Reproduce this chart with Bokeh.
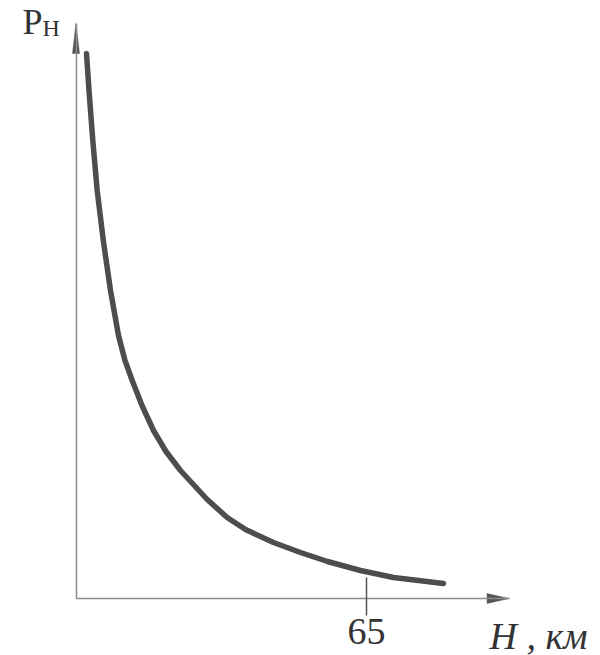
from bokeh.plotting import figure
from bokeh.models import LinearAxis, FixedTicker, Range1d, Label
from bokeh.embed import file_html
from bokeh.resources import INLINE

# Data: pressure vs altitude (arbitrary pressure units)
altitude_km = [2.35, 2.91, 3.76, 4.74, 6.11, 7.72, 9.51, 10.96, 12.58, 14.77,
               17.34, 20.14, 23.38, 29.36, 33.83, 37.93, 41.28, 44.19, 50.23,
               56.28, 63.66, 71.05, 82.23]
pressure = [109.0, 101.6, 91.6, 81.6, 71.6, 61.6, 52.6, 47.6, 43.6, 38.6,
            33.6, 29.4, 25.6, 19.8, 16.2, 13.8, 12.4, 11.2, 9.2,
            7.4, 5.6, 4.2, 3.0]

x_tick_values = [65]
x_tick_labels = {65: "65"}
x_axis_end = 96.9
y_axis_end = 115.0

SERIF = "Liberation Serif"

# screen scale constants (pixels per data unit) and origin position
PX_PER_KM = 4.469
PX_PER_P = 5.0
W, H = 600, 655
ORIGIN_X, ORIGIN_Y = 75.5, 598  # pixels from top-left

x0 = -ORIGIN_X / PX_PER_KM
y0 = -(H - ORIGIN_Y) / PX_PER_P


def sx(px):
    return (px - ORIGIN_X) / PX_PER_KM


def sy(py):
    return (ORIGIN_Y - py) / PX_PER_P


p = figure(width=W, height=H, output_backend="svg", toolbar_location=None,
           x_range=Range1d(x0, x0 + W / PX_PER_KM),
           y_range=Range1d(y0, y0 + H / PX_PER_P),
           x_axis_type=None, y_axis_type=None,
           min_border=0, min_border_left=0, min_border_right=0,
           min_border_top=0, min_border_bottom=0)
p.outline_line_color = None
p.background_fill_color = "white"
p.border_fill_color = "white"

axis_color = "#8c8c8c"

xaxis = LinearAxis(fixed_location=0, bounds=(0, x_axis_end),
                   ticker=FixedTicker(ticks=x_tick_values),
                   major_label_overrides=x_tick_labels,
                   axis_line_color=axis_color, axis_line_width=1.5,
                   major_tick_line_color="#555555", major_tick_line_width=1.5,
                   major_tick_in=21, major_tick_out=17,
                   minor_tick_line_color=None,
                   major_label_standoff=3,
                   major_label_text_font=SERIF,
                   major_label_text_font_size="38px",
                   major_label_text_color="#333333")
p.add_layout(xaxis, "below")

yaxis = LinearAxis(fixed_location=0, bounds=(0, y_axis_end),
                   ticker=FixedTicker(ticks=[]),
                   axis_line_color=axis_color, axis_line_width=1.5,
                   major_tick_line_color=None, minor_tick_line_color=None,
                   major_label_text_font_size="0px")
p.add_layout(yaxis, "left")

# arrowheads at the ends of the axes
xl = 22 / PX_PER_KM
xw = 5 / PX_PER_P
p.patch([x_axis_end - xl, x_axis_end, x_axis_end - xl],
        [-xw, 0, xw], color="#555555", line_width=0.5)
yl = 30 / PX_PER_P
yw = 3.5 / PX_PER_KM
p.patch([-yw, 0, yw], [y_axis_end - yl, y_axis_end, y_axis_end - yl],
        color="#555555", line_width=0.5)

# the curve
p.line(altitude_km, pressure, line_color="#4d4d4d", line_width=5.5,
       line_cap="round", line_join="round")

# axis titles
p.add_layout(Label(x=sx(22), y=sy(21), text="P",
                   text_font=SERIF, text_font_size="36px", text_color="#333333",
                   text_baseline="alphabetic"))
p.add_layout(Label(x=sx(42), y=sy(27), text="H",
                   text_font=SERIF, text_font_size="24px", text_color="#333333",
                   text_baseline="alphabetic"))
p.add_layout(Label(x=sx(489), y=sy(635), text="H , км",
                   text_font=SERIF, text_font_size="38px", text_font_style="italic",
                   text_color="#333333", text_baseline="alphabetic"))

open("out.html", "w").write(file_html(p, INLINE))
